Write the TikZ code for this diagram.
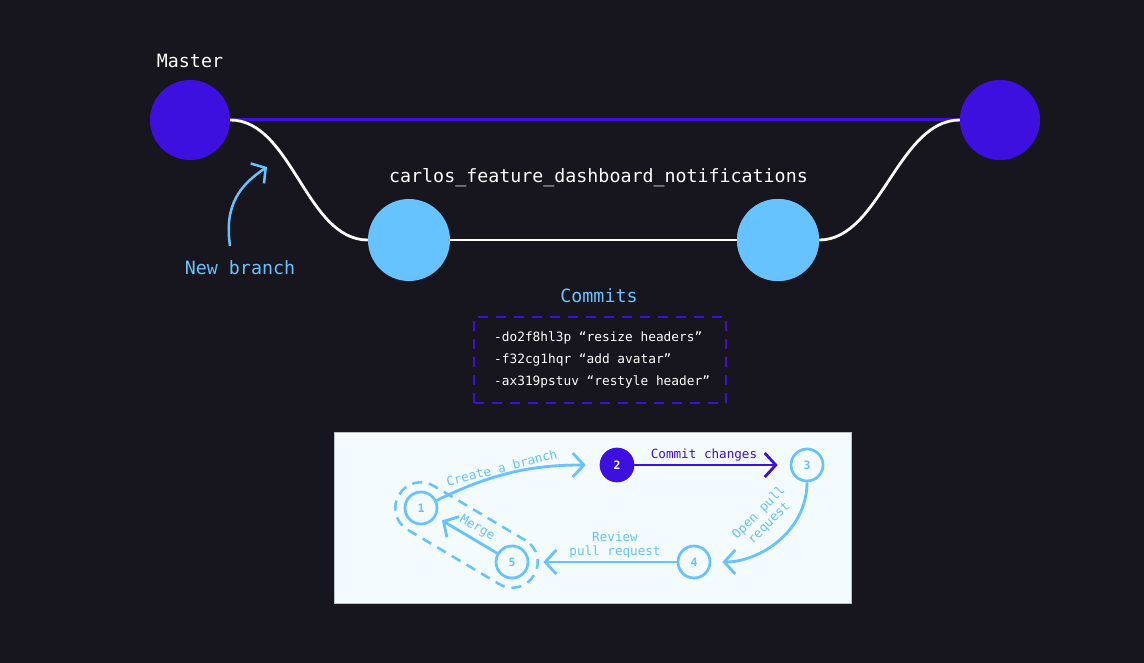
\documentclass[tikz,border=0pt]{standalone}
\usepackage{fontspec}
\setmonofont{DejaVu Sans Mono}
\usetikzlibrary{arrows.meta,shapes.geometric}
\definecolor{bgc}{HTML}{17161F}
\definecolor{purp}{HTML}{3D10E0}
\definecolor{lblue}{HTML}{66C3FF}
\definecolor{panel}{HTML}{F3FBFE}
\definecolor{pborder}{HTML}{B8C0C8}
\tikzset{
  bigdot/.style={circle,minimum size=#1,inner sep=0pt},
  toplbl/.style={font=\ttfamily\fontsize{18.3}{20}\selectfont},
  commitlbl/.style={font=\ttfamily\fontsize{12.8}{14}\selectfont,text=white,anchor=west,inner sep=0pt},
  stepnode/.style={circle,draw=lblue,line width=2.7pt,fill=panel,minimum size=32pt,inner sep=0pt,text=lblue,font=\ttfamily\bfseries\fontsize{11.5}{13}\selectfont},
  flowarrow/.style={draw=lblue,line width=2.8pt,-{Straight Barb[length=11pt,width=24pt,line width=2.8pt]}},
  flowlbl/.style={font=\ttfamily\fontsize{12.6}{14.5}\selectfont,text=lblue,inner sep=1pt},
}
\begin{document}
\begin{tikzpicture}[x=1pt,y=-1pt]
\fill[bgc] (0,0) rectangle (1144,663);
\useasboundingbox (0,0) rectangle (1144,663);

% top branches
\node[bigdot=80pt,fill=purp] (m1) at (190,120) {};
\node[bigdot=80pt,fill=purp] (m2) at (1000,120) {};
\node[bigdot=82pt,fill=lblue] (c1) at (409,240) {};
\node[bigdot=82pt,fill=lblue] (c2) at (778,240) {};
\draw[purp,line width=3pt] (m1.east) -- (m2.west);
\draw[white,line width=2.8pt] (m1.east) .. controls (292,120) and (306,240) .. (c1.west);
\draw[white,line width=2.8pt] (c1.east) -- (c2.east);
\draw[white,line width=2.8pt] (c2.east) .. controls (880,240) and (898,120) .. (m2.west);
\fill[lblue] (c2) circle (41pt);

\node[toplbl,text=white] (tm) at (190,61) {Master};
\node[toplbl,text=white] (tc) at (598.5,178) {carlos\_feature\_dashboard\_notifications};
\node[toplbl,text=lblue] (tnb) at (240,268) {New branch};
\coordinate (nbs) at (230,246);
\coordinate (nbe) at (267,167);
\draw[lblue,line width=2.5pt,-{Straight Barb[length=10pt,width=24pt,line width=2.5pt]}] (nbs) .. controls (224,205) and (240,185) .. (nbe);

% commits
\node[toplbl,text=lblue] (tcm) at (599,296) {Commits};
\node[draw=purp,dash pattern=on 10pt off 8pt,line width=2.8pt,minimum width=252pt,minimum height=86pt,inner sep=0pt] (box) at (600,360) {};
\node[commitlbl] (l1) at (494,338) {-do2f8hl3p “resize headers”};
\node[commitlbl] (l2) at (494,360) {-f32cg1hqr “add avatar”};
\node[commitlbl] (l3) at (494,382) {-ax319pstuv “restyle header”};

% bottom panel
\draw[pborder,fill=panel,line width=1pt] (334,432) rectangle (851,603);
\node[rectangle,rounded corners=25pt,draw=lblue,dash pattern=on 10pt off 7pt,line width=2.5pt,minimum width=157pt,minimum height=51pt,rotate=-30.7] (cap) at (466.5,535) {};
\node[stepnode] (s1) at (421,508) {1};
\node[stepnode,fill=purp,draw=purp,text=white] (s2) at (617,465) {2};
\node[stepnode] (s3) at (807,465) {3};
\node[stepnode] (s4) at (694,562) {4};
\node[stepnode] (s5) at (512,562) {5};

\draw[flowarrow,shorten >=14pt] (s1) to[out=26,in=180] node[flowlbl,sloped,above,pos=0.42] {Create a branch} (s2.west);
\draw[flowarrow,draw=purp,-{Straight Barb[length=11pt,width=24pt,line width=2.8pt]},shorten >=12pt] (s2.east) -- node[flowlbl,text=purp,above=1pt,xshift=-8pt] {Commit changes} (s3.west);
\draw[flowarrow,shorten >=11pt] (s3.south) to[out=-90,in=0] (s4.east);
\node[flowlbl,rotate=45,align=center] (t34) at (764,518) {Open pull\\request};
\draw[flowarrow,shorten >=14pt] (s4.west) -- (s5.east);
\node[flowlbl,align=center] (t45) at (615,545) {Review\\pull request};
\draw[flowarrow,shorten >=7pt] (s5) -- node[flowlbl,sloped,above=3pt,pos=0.42] {Merge} (s1);
\end{tikzpicture}
\end{document}
